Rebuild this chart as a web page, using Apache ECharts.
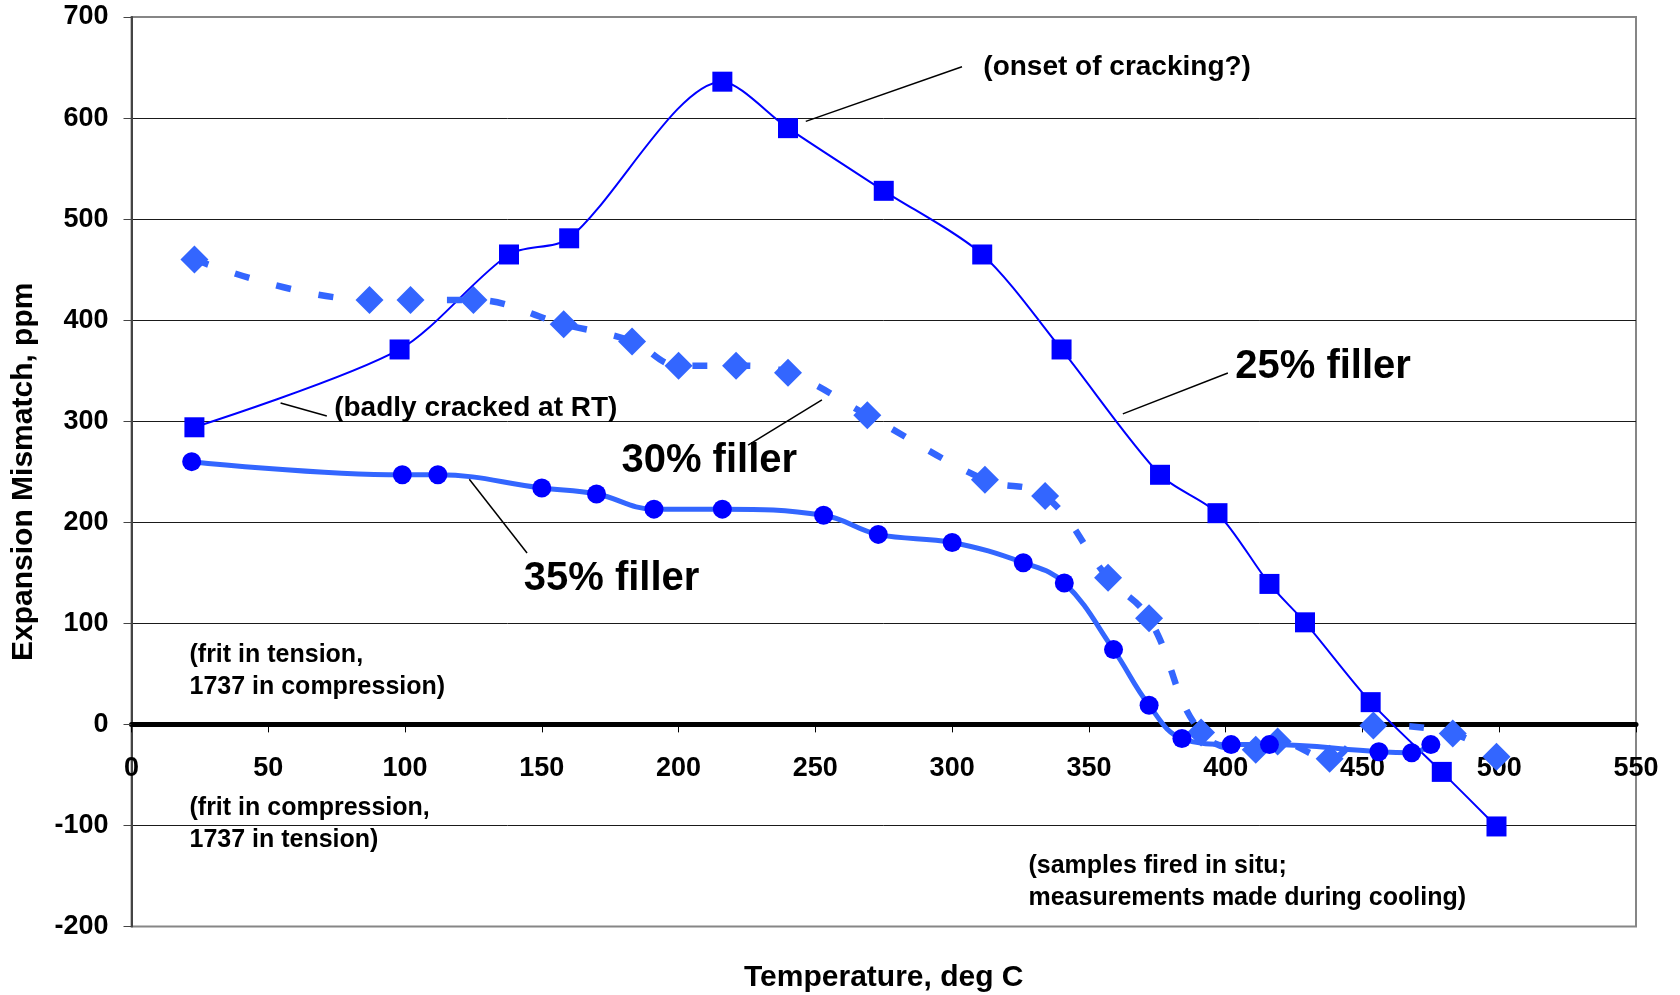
<!DOCTYPE html>
<html>
<head>
<meta charset="utf-8">
<title>Expansion Mismatch vs Temperature</title>
<script src="https://cdn.jsdelivr.net/npm/echarts@6/dist/echarts.min.js"></script>
<style>
  html, body { margin: 0; padding: 0; background: #ffffff; }
  #chart { width: 1680px; height: 995px; }
</style>
</head>
<body>
<div id="chart"></div>
<script>
// Temperature (deg C) and expansion mismatch (ppm) for each filler loading
const temp25 = [23, 98, 138, 160, 216, 240, 275, 311, 340, 376, 397, 416, 429, 453, 479, 499];
const mis25  = [294, 371, 465, 481, 636, 590, 528, 465, 371, 247, 209, 139, 101, 22, -47, -101];

const temp30 = [23, 87, 102, 125, 158, 183, 200, 221, 240, 269, 312, 334, 357, 372, 391, 411, 419, 438, 454, 483, 499];
const mis30  = [460, 420, 420, 420, 396, 379, 355, 355, 348, 306, 242, 226, 145, 105, -8, -25, -17, -34, -1, -9, -32];

const temp35 = [22, 99, 112, 150, 170, 191, 216, 253, 273, 300, 326, 341, 359, 372, 384, 402, 416, 456, 468, 475];
const mis35  = [260, 247, 247, 234, 228, 213, 213, 207, 188, 180, 160, 140, 74, 19, -14, -20, -20, -27, -28, -20];

// Axis ranges and tick steps
const xMin = 0, xMax = 550, xStep = 50;
const yMin = -200, yMax = 700, yStep = 100;

// Notes placed in data coordinates (left edge, vertical middle)
const notes = [
  { text: '(onset of cracking?)', at: [311.4, 650.7], size: 28 },
  { text: '25% filler', at: [403.5, 354], size: 40 },
  { text: '30% filler', at: [179.1, 260.7], size: 40 },
  { text: '35% filler', at: [143.4, 144.1], size: 40 },
  { text: '(badly cracked at RT)', at: [74.1, 312.7], size: 28 },
  { text: '(frit in tension,', at: [21.2, 68.9], size: 25 },
  { text: '1737 in compression)', at: [21.2, 37.1], size: 25 },
  { text: '(frit in compression,', at: [21.2, -82.6], size: 25 },
  { text: '1737 in tension)', at: [21.2, -114.4], size: 25 },
  { text: '(samples fired in situ;', at: [327.9, -139.9], size: 25 },
  { text: 'measurements made during cooling)', at: [327.9, -171.6], size: 25 }
];

// Leader lines from the notes to their curves, in data coordinates
const leaders = [
  [[303.6, 650.7], [246.5, 596.7]],
  [[400.8, 347.7], [362.4, 307.3]],
  [[252.4, 321.2], [225.4, 276.3]],
  [[123.5, 242.6], [144.6, 169.6]],
  [[54.5, 318.0], [71.4, 305.2]]
];

const FONT = '"Liberation Sans", Arial, Helvetica, sans-serif';
const zip = (xs, ys) => xs.map((x, i) => [x, ys[i]]);

// Plot box inside the 1680 x 995 canvas
const GRID = { left: 131.5, right: 44, top: 17, bottom: 68.5 };
const plotHeight = 995 - GRID.top - GRID.bottom;
// The temperature axis sits on the zero line: shift it up from the bottom edge
const xAxisShift = -((0 - yMin) / (yMax - yMin)) * plotHeight;

const chart = echarts.init(document.getElementById('chart'), null, { renderer: 'canvas' });

const splitColors = [];
for (let v = yMin; v <= yMax; v += yStep) {
  splitColors.push(v === yMin || v === yMax ? 'rgba(0,0,0,0)' : '#1a1a1a');
}

chart.setOption({
  animation: false,
  backgroundColor: '#ffffff',
  grid: {
    left: GRID.left, right: GRID.right, top: GRID.top, bottom: GRID.bottom,
    containLabel: false, outerBoundsMode: 'none',
    show: true, borderColor: '#868686', borderWidth: 2, backgroundColor: '#ffffff'
  },
  xAxis: {
    type: 'value', min: xMin, max: xMax, interval: xStep,
    position: 'bottom', offset: xAxisShift,
    name: 'Temperature, deg C', nameLocation: 'middle', nameGap: 238,
    nameTextStyle: { fontFamily: FONT, fontWeight: 'bold', fontSize: 30, color: '#000' },
    axisLine: { onZero: false, lineStyle: { color: '#000', width: 5 } },
    axisTick: { show: true, length: 8, lineStyle: { color: '#000', width: 1 } },
    axisLabel: { margin: 31, fontFamily: FONT, fontWeight: 'bold', fontSize: 27, color: '#000' },
    splitLine: { show: false }
  },
  yAxis: {
    type: 'value', min: yMin, max: yMax, interval: yStep,
    name: 'Expansion Mismatch, ppm', nameLocation: 'middle', nameGap: 93, nameRotate: 90,
    nameTextStyle: { fontFamily: FONT, fontWeight: 'bold', fontSize: 30, color: '#000' },
    axisLine: { show: true, lineStyle: { color: '#444', width: 2 } },
    axisTick: { show: true, length: 8, lineStyle: { color: '#444', width: 1 } },
    axisLabel: { margin: 23, fontFamily: FONT, fontWeight: 'bold', fontSize: 27, color: '#000' },
    splitLine: { show: true, lineStyle: { color: splitColors, width: 1 } }
  },
  series: [
    {
      name: '25% filler', type: 'line', data: zip(temp25, mis25),
      smooth: 0.28, symbol: 'rect', symbolSize: 20,
      lineStyle: { color: '#0000ff', width: 2 },
      itemStyle: { color: '#0000ff' }, z: 3
    },
    {
      name: '30% filler', type: 'line', data: zip(temp30, mis30),
      smooth: 0.4, symbol: 'diamond', symbolSize: 28,
      lineStyle: { color: '#3366ff', width: 6.5, type: [15, 28] },
      itemStyle: { color: '#3366ff' }, z: 4
    },
    {
      name: '35% filler', type: 'line', data: zip(temp35, mis35),
      smooth: 0.4, symbol: 'circle', symbolSize: 19,
      lineStyle: { color: '#3366ff', width: 5 },
      itemStyle: { color: '#0000ff' }, z: 5
    }
  ]
});

// Notes and leader lines, positioned through the chart's own coordinate system
const toPx = (p) => chart.convertToPixel({ gridIndex: 0 }, p);
const graphics = [];
leaders.forEach(([a, b]) => {
  const p1 = toPx(a), p2 = toPx(b);
  graphics.push({
    type: 'line', silent: true, z: 10,
    shape: { x1: p1[0], y1: p1[1], x2: p2[0], y2: p2[1] },
    style: { stroke: '#000', lineWidth: 1.5 }
  });
});
notes.forEach((n) => {
  const p = toPx(n.at);
  graphics.push({
    type: 'text', silent: true, z: 10, x: p[0], y: p[1],
    style: {
      text: n.text, fill: '#000',
      font: 'bold ' + n.size + 'px ' + FONT,
      textAlign: 'left', textVerticalAlign: 'middle'
    }
  });
});
chart.setOption({ graphic: graphics });
</script>
</body>
</html>
